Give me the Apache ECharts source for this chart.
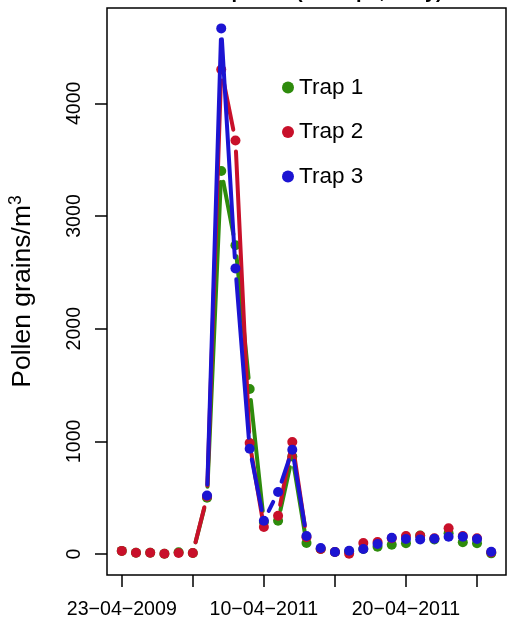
<!DOCTYPE html>
<html>
<head>
<meta charset="utf-8">
<script src="https://cdn.jsdelivr.net/npm/echarts@6/dist/echarts.min.js"></script>
<style>
  html, body { margin: 0; padding: 0; background: #fff; }
  #chart { width: 508px; height: 619px; }
</style>
</head>
<body>
<div id="chart"></div>
<script>
// sample number along the x axis (one sample per collection day)
var samples = [1, 2, 3, 4, 5, 6, 7, 8, 9, 10, 11, 12, 13, 14, 15, 16, 17, 18, 19, 20, 21, 22, 23, 24, 25, 26, 27]
// pollen grains per m3
var trap1 = [28, 12, 12, 3, 15, 10, 500, 3400, 2740, 1465, 285, 296, 865, 98, 45, 18, 25, 45, 65, 82, 95, 165, 130, 184, 104, 95, 6]
var trap2 = [28, 12, 12, 3, 10, 10, 510, 4300, 3670, 985, 240, 340, 995, 150, 45, 18, 3, 98, 107, 140, 160, 162, 140, 228, 160, 140, 15]
var trap3 = [null, null, null, null, null, null, 520, 4665, 2535, 935, 295, 550, 925, 160, 53, 18, 30, 44, 89, 145, 133, 130, 136, 154, 154, 133, 20]
// axis ticks and labels
var xTicks = [1, 6, 11, 16, 21, 26]
var xLabelPos = [1, 11, 21]
var xLabels = ['23\u221204\u22122009', '10\u221204\u22122011', '20\u221204\u22122011']
var yTicks = [0, 1000, 2000, 3000, 4000]

var FONT = '"Liberation Sans", Arial, Helvetica, sans-serif'
var GAP = 11 // gap around each point, like R type = "b"
var traps = [
  { name: 'Trap 1', color: '#2E8B0C', values: trap1 },
  { name: 'Trap 2', color: '#C8102A', values: trap2 },
  { name: 'Trap 3', color: '#1C14D2', values: trap3 }
]

function segmentRenderer (color) {
  return function (params, api) {
    var a = api.coord([api.value(0), api.value(1)])
    var b = api.coord([api.value(2), api.value(3)])
    var dx = b[0] - a[0]
    var dy = b[1] - a[1]
    var len = Math.sqrt(dx * dx + dy * dy)
    if (len <= 2 * GAP) return null
    var ux = dx / len
    var uy = dy / len
    return {
      type: 'line',
      shape: { x1: a[0] + ux * GAP, y1: a[1] + uy * GAP, x2: b[0] - ux * GAP, y2: b[1] - uy * GAP },
      style: { stroke: color, lineWidth: 4, lineCap: 'round' }
    }
  }
}

var series = []
traps.forEach(function (t, k) {
  var segs = []
  var pts = []
  for (var i = 0; i < samples.length; i++) {
    if (t.values[i] == null) continue
    pts.push([samples[i], t.values[i]])
    if (i > 0 && t.values[i - 1] != null) {
      segs.push([samples[i - 1], t.values[i - 1], samples[i], t.values[i]])
    }
  }
  series.push({
    name: t.name + ' line',
    type: 'custom',
    z: 2 + k * 2,
    silent: true,
    encode: { x: [0, 2], y: [1, 3] },
    renderItem: segmentRenderer(t.color),
    data: segs
  })
  series.push({
    name: t.name,
    type: 'scatter',
    z: 3 + k * 2,
    symbol: 'circle',
    symbolSize: 10,
    itemStyle: { color: t.color, opacity: 1 },
    emphasis: { disabled: true },
    data: pts
  })
})

var chart = echarts.init(document.getElementById('chart'))
chart.setOption({
  animation: false,
  backgroundColor: '#fff',
  grid: {
    show: true,
    left: 107,
    right: 2,
    top: 8,
    bottom: 44,
    outerBoundsMode: 'none',
    containLabel: false,
    borderColor: '#000',
    borderWidth: 1.5
  },
  graphic: [{
    type: 'text',
    x: 306,
    y: 2,
    style: {
      text: 'Grass pollen (all traps, daily)',
      font: 'bold 20px ' + FONT,
      fill: '#000',
      align: 'center',
      verticalAlign: 'bottom'
    }
  }],
  legend: {
    data: traps.map(function (t) { return t.name }),
    orient: 'vertical',
    left: 277,
    top: 71,
    icon: 'circle',
    itemWidth: 12,
    itemHeight: 12,
    itemGap: 21.5,
    selectedMode: false,
    textStyle: { fontFamily: FONT, fontSize: 22.5, lineHeight: 22, color: '#000' }
  },
  xAxis: {
    type: 'value',
    min: -0.04,
    max: 28.04,
    splitLine: { show: false },
    axisLine: { show: false, onZero: false },
    axisTick: { show: true, length: 12, customValues: xTicks, lineStyle: { color: '#000', width: 1.5 } },
    axisLabel: {
      customValues: xLabelPos,
      margin: 25,
      fontFamily: FONT,
      fontSize: 19.6,
      lineHeight: 20,
      color: '#000',
      formatter: function (v) { return xLabels[xLabelPos.indexOf(v)] }
    }
  },
  yAxis: {
    type: 'value',
    min: -186,
    max: 4846,
    splitLine: { show: false },
    axisLine: { show: false, onZero: false },
    axisTick: { show: true, length: 12, customValues: yTicks, lineStyle: { color: '#000', width: 1.5 } },
    axisLabel: {
      customValues: yTicks,
      rotate: 90,
      margin: 22,
      fontFamily: FONT,
      fontSize: 19.6,
      color: '#000',
      formatter: function (v) { return String(v) }
    },
    name: 'Pollen grains/m{sup|3}',
    nameLocation: 'middle',
    nameRotate: 90,
    nameGap: 68,
    nameTextStyle: {
      fontFamily: FONT,
      fontSize: 26.5,
      lineHeight: 32,
      color: '#000',
      rich: {
        sup: { fontFamily: FONT, fontSize: 17.5, lineHeight: 17, verticalAlign: 'top', color: '#000' }
      }
    }
  },
  series: series
})
</script>
</body>
</html>
